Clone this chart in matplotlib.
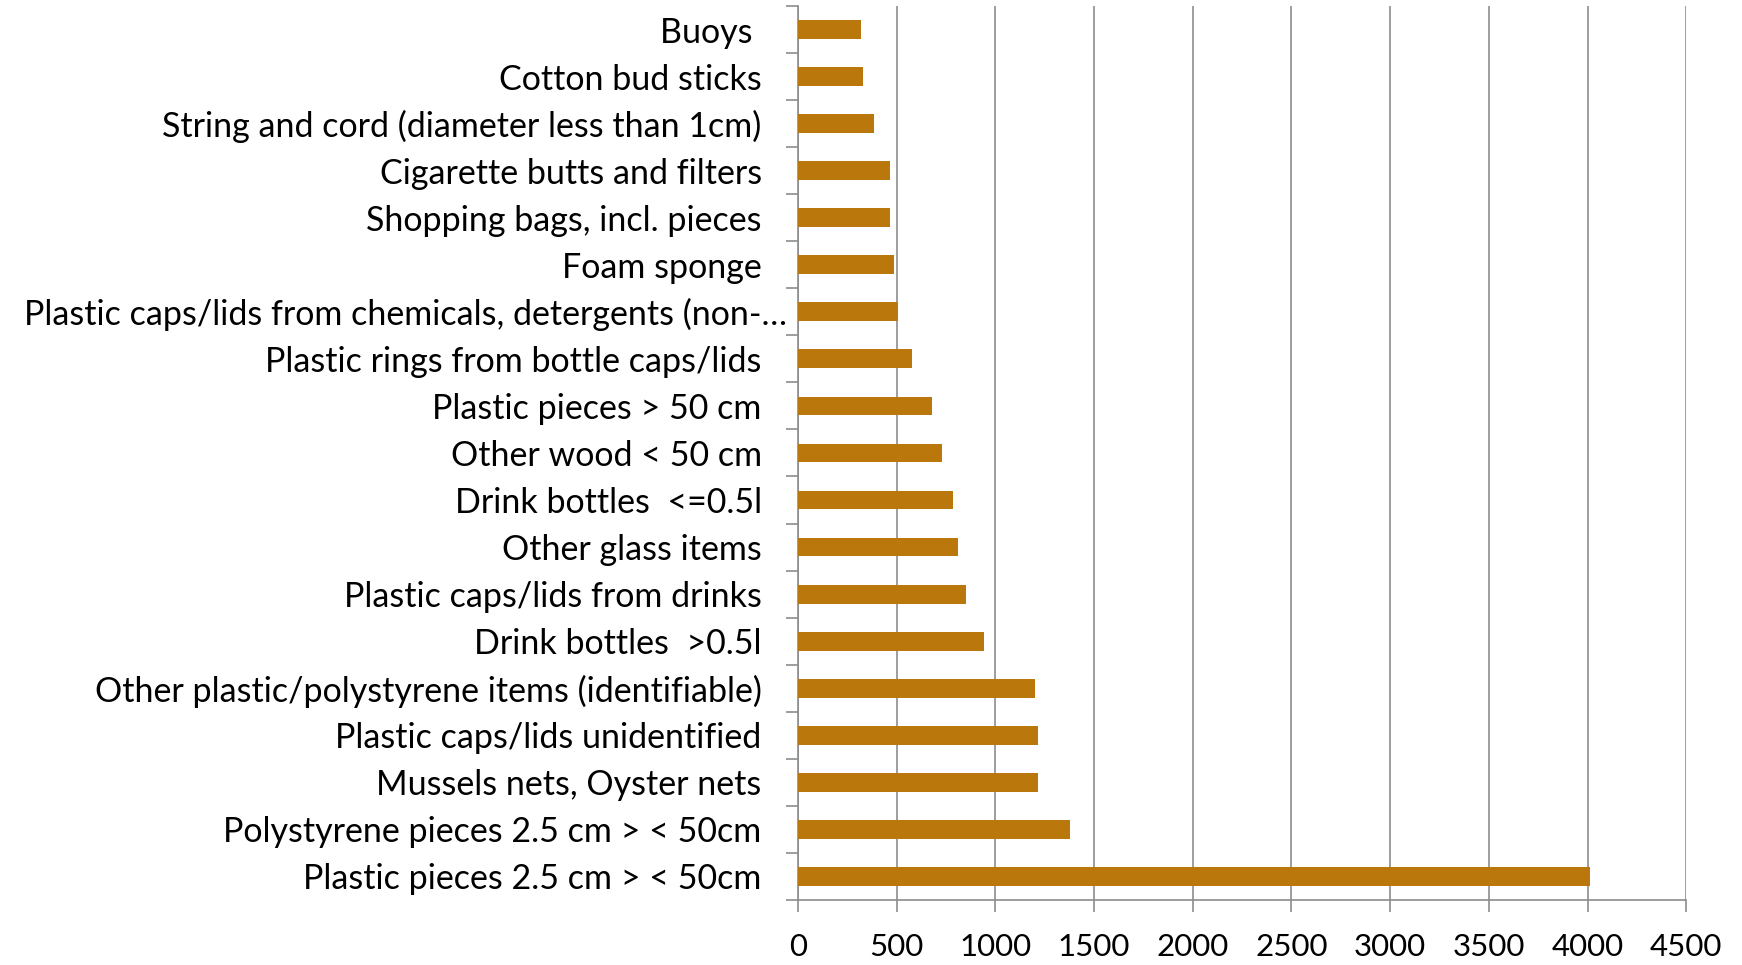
import matplotlib.pyplot as plt
from matplotlib.ticker import FixedLocator

# categories from bottom to top
categories = [
    "Plastic pieces 2.5 cm > < 50cm",
    "Polystyrene pieces 2.5 cm > < 50cm",
    "Mussels nets, Oyster nets",
    "Plastic caps/lids unidentified",
    "Other plastic/polystyrene items (identifiable)",
    "Drink bottles  >0.5l",
    "Plastic caps/lids from drinks",
    "Other glass items",
    "Drink bottles  <=0.5l",
    "Other wood < 50 cm",
    "Plastic pieces > 50 cm",
    "Plastic rings from bottle caps/lids",
    "Plastic caps/lids from chemicals, detergents (non-\u2026",
    "Foam sponge",
    "Shopping bags, incl. pieces",
    "Cigarette butts and filters",
    "String and cord (diameter less than 1cm)",
    "Cotton bud sticks",
    "Buoys ",
]
counts = [4010, 1379, 1219, 1214, 1202, 944, 850, 813, 788, 729,
          678, 579, 507, 487, 466, 465, 384, 328, 322]
xticks = [0, 500, 1000, 1500, 2000, 2500, 3000, 3500, 4000, 4500]

plt.rcParams['font.family'] = ['Lato', 'DejaVu Sans']

fig = plt.figure(figsize=(17.42, 9.65), dpi=100)
ax = fig.add_axes([0.458, 0.0674, 0.968 - 0.458, 0.9938 - 0.0674])

pos = range(len(categories))
ax.barh(pos, counts, height=0.4, color='#BA770B', zorder=3)

grid_col = '#8C8C8C'
ax.set_xlim(0, 4500)
ax.set_ylim(-0.5, len(categories) - 0.5)
ax.set_xticks(xticks)
ax.set_xticklabels([str(v) for v in xticks], fontsize=22.5)
ax.xaxis.grid(True, color=grid_col, linewidth=1.2, zorder=0)

ax.set_yticks(list(pos))
ax.set_yticklabels(categories, fontsize=24.5)
ax.yaxis.set_minor_locator(FixedLocator([i - 0.5 for i in range(len(categories) + 1)]))
ax.tick_params(axis='y', which='major', length=0, pad=26)
ax.tick_params(axis='y', which='minor', length=8.5, width=1.2, color=grid_col, direction='out')
ax.tick_params(axis='x', which='major', length=8.5, width=1.2, color=grid_col, pad=15)

# long truncated label sits closer to the axis
ax.yaxis.get_major_ticks()[12].set_pad(8)

for s in ['top', 'right']:
    ax.spines[s].set_visible(False)
for s in ['left', 'bottom']:
    ax.spines[s].set_color(grid_col)
    ax.spines[s].set_linewidth(1.2)

fig.savefig('out.png', dpi=100)
